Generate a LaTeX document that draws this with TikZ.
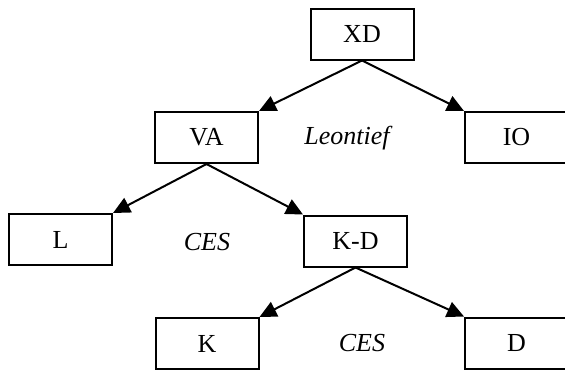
\documentclass[tikz,border=0pt]{standalone}
\usepackage{fontspec}
\setmainfont{Liberation Serif}
\usepackage{tikz}
\usetikzlibrary{arrows.meta}
\tikzstyle{nest} = [draw=black, line width=1pt, rectangle, minimum width=51.5pt, minimum height=25.5pt, inner sep=0pt, font={\fontsize{13}{15}\selectfont}]
\tikzstyle{elas} = [font={\fontsize{13}{15}\selectfont\itshape}]
\tikzstyle{link} = [line width=1pt, -{Triangle[length=8.5pt,width=8pt]}]

\begin{document}
\begin{tikzpicture}[x=0.5pt,y=-0.5pt]
    \useasboundingbox (0,0) rectangle (565,372);
    \node[nest](xd) at (362,34){XD};
    \node[nest](va) at (206.5,137.5){VA};
    \node[nest](io) at (516.5,137.5){IO};
    \node[nest](l) at (60.5,239.5){L};
    \node[nest](kd) at (355.5,241){K-D};
    \node[nest](k) at (207,343.5){K};
    \node[nest](d) at (516.5,343){D};
    \node[elas](leo) at (347,138){Leontief};
    \node[elas](ces1) at (207,242){CES};
    \node[elas](ces2) at (362,343){CES};
    \draw[link](xd.south)--(va.north east);
    \draw[link](xd.south)--(io.north west);
    \draw[link](va.south)--(l.north east);
    \draw[link](va.south)--(kd.north west);
    \draw[link](kd.south)--(k.north east);
    \draw[link](kd.south)--(d.north west);
  \end{tikzpicture}
\end{document}
